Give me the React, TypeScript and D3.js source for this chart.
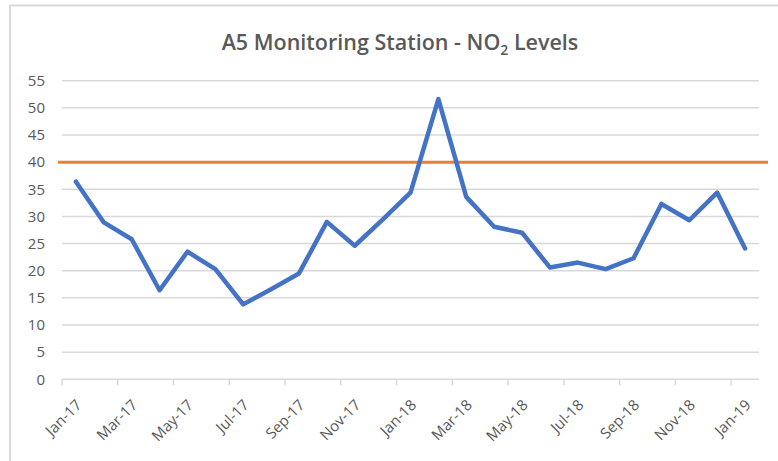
import { useEffect, useRef } from 'react'
import * as d3 from 'd3'

const months = [
  'Jan-17', 'Feb-17', 'Mar-17', 'Apr-17', 'May-17', 'Jun-17', 'Jul-17', 'Aug-17', 'Sep-17',
  'Oct-17', 'Nov-17', 'Dec-17', 'Jan-18', 'Feb-18', 'Mar-18', 'Apr-18', 'May-18', 'Jun-18',
  'Jul-18', 'Aug-18', 'Sep-18', 'Oct-18', 'Nov-18', 'Dec-18', 'Jan-19',
]
const no2Values = [
  36.4, 28.9, 25.8, 16.4, 23.5, 20.3, 13.8, 16.6, 19.5, 29.0, 24.6, 29.4, 34.4,
  51.6, 33.6, 28.1, 27.0, 20.6, 21.5, 20.3, 22.3, 32.3, 29.3, 34.4, 24.1,
]
const limitValue = 40
const yTicks = [0, 5, 10, 15, 20, 25, 30, 35, 40, 45, 50, 55]

export default function App() {
  const ref = useRef<SVGSVGElement>(null)

  useEffect(() => {
    if (!ref.current) return
    const svg = d3.select(ref.current)
    svg.selectAll('*').remove()

    const width = 778
    const height = 461
    svg.attr('width', width).attr('height', height)

    const font = "'Open Sans', sans-serif"
    const textColor = '#595959'
    const gridColor = '#d9d9d9'

    // chart frame
    svg.append('rect')
      .attr('x', 10).attr('y', 5.5)
      .attr('width', 790).attr('height', 480)
      .attr('fill', 'white')
      .attr('stroke', gridColor)
      .attr('stroke-width', 2)

    // title with subscript
    const title = svg.append('text')
      .attr('x', 400).attr('y', 50)
      .attr('text-anchor', 'middle')
      .style('font-family', font)
      .style('font-size', '21.5px')
      .style('font-weight', 600)
      .style('fill', textColor)
    title.append('tspan').text('A5 Monitoring Station - NO')
    title.append('tspan').attr('dy', 5).style('font-size', '14px').text('2')
    title.append('tspan').attr('dy', -5).text(' Levels')

    const x = d3.scaleBand<string>().domain(months).range([62, 759]).padding(0)
    const y = d3.scaleLinear().domain([0, 55]).range([379.3, 80.7])
    const bw = x.bandwidth()

    // gridlines
    svg.append('g').selectAll('line')
      .data(yTicks.filter(t => t > 0))
      .join('line')
      .attr('x1', 62).attr('x2', 759)
      .attr('y1', d => y(d)).attr('y2', d => y(d))
      .attr('stroke', gridColor)
      .attr('stroke-width', 1.5)

    // y labels
    svg.append('g').selectAll('text')
      .data(yTicks)
      .join('text')
      .attr('x', 45)
      .attr('y', d => y(d))
      .attr('dy', '0.35em')
      .attr('text-anchor', 'end')
      .style('font-family', font)
      .style('font-size', '15px')
      .style('fill', textColor)
      .text(d => d)

    // x axis line + ticks
    svg.append('line')
      .attr('x1', 62).attr('x2', 759)
      .attr('y1', y(0)).attr('y2', y(0))
      .attr('stroke', gridColor)
      .attr('stroke-width', 1.5)

    const labelled = months.filter((_, i) => i % 2 === 0)
    svg.append('g').selectAll('line')
      .data(labelled)
      .join('line')
      .attr('x1', d => x(d)!).attr('x2', d => x(d)!)
      .attr('y1', y(0)).attr('y2', y(0) + 6)
      .attr('stroke', gridColor)
      .attr('stroke-width', 1.5)

    svg.append('g').selectAll('text')
      .data(labelled)
      .join('text')
      .attr('transform', d => `translate(${x(d)! + bw / 2 + 3},${y(0) + 23}) rotate(-45)`)
      .attr('text-anchor', 'end')
      .attr('dy', '0.35em')
      .style('font-family', font)
      .style('font-size', '15px')
      .style('fill', textColor)
      .text(d => d)

    // limit line
    const [r0, r1] = x.range()
    svg.append('line')
      .attr('x1', r0 - 4).attr('x2', r1 + 9)
      .attr('y1', y(limitValue)).attr('y2', y(limitValue))
      .attr('stroke', '#ED7D31')
      .attr('stroke-width', 3)

    // NO2 series
    const line = d3.line<number>()
      .x((_, i) => x(months[i])! + bw / 2)
      .y(d => y(d))

    svg.append('path')
      .datum(no2Values)
      .attr('d', line)
      .attr('fill', 'none')
      .attr('stroke', '#4472C4')
      .attr('stroke-width', 4.5)
      .attr('stroke-linejoin', 'round')
      .attr('stroke-linecap', 'round')
  }, [])

  return <svg ref={ref} style={{ position: 'absolute', left: 0, top: 0, display: 'block' }}></svg>
}
